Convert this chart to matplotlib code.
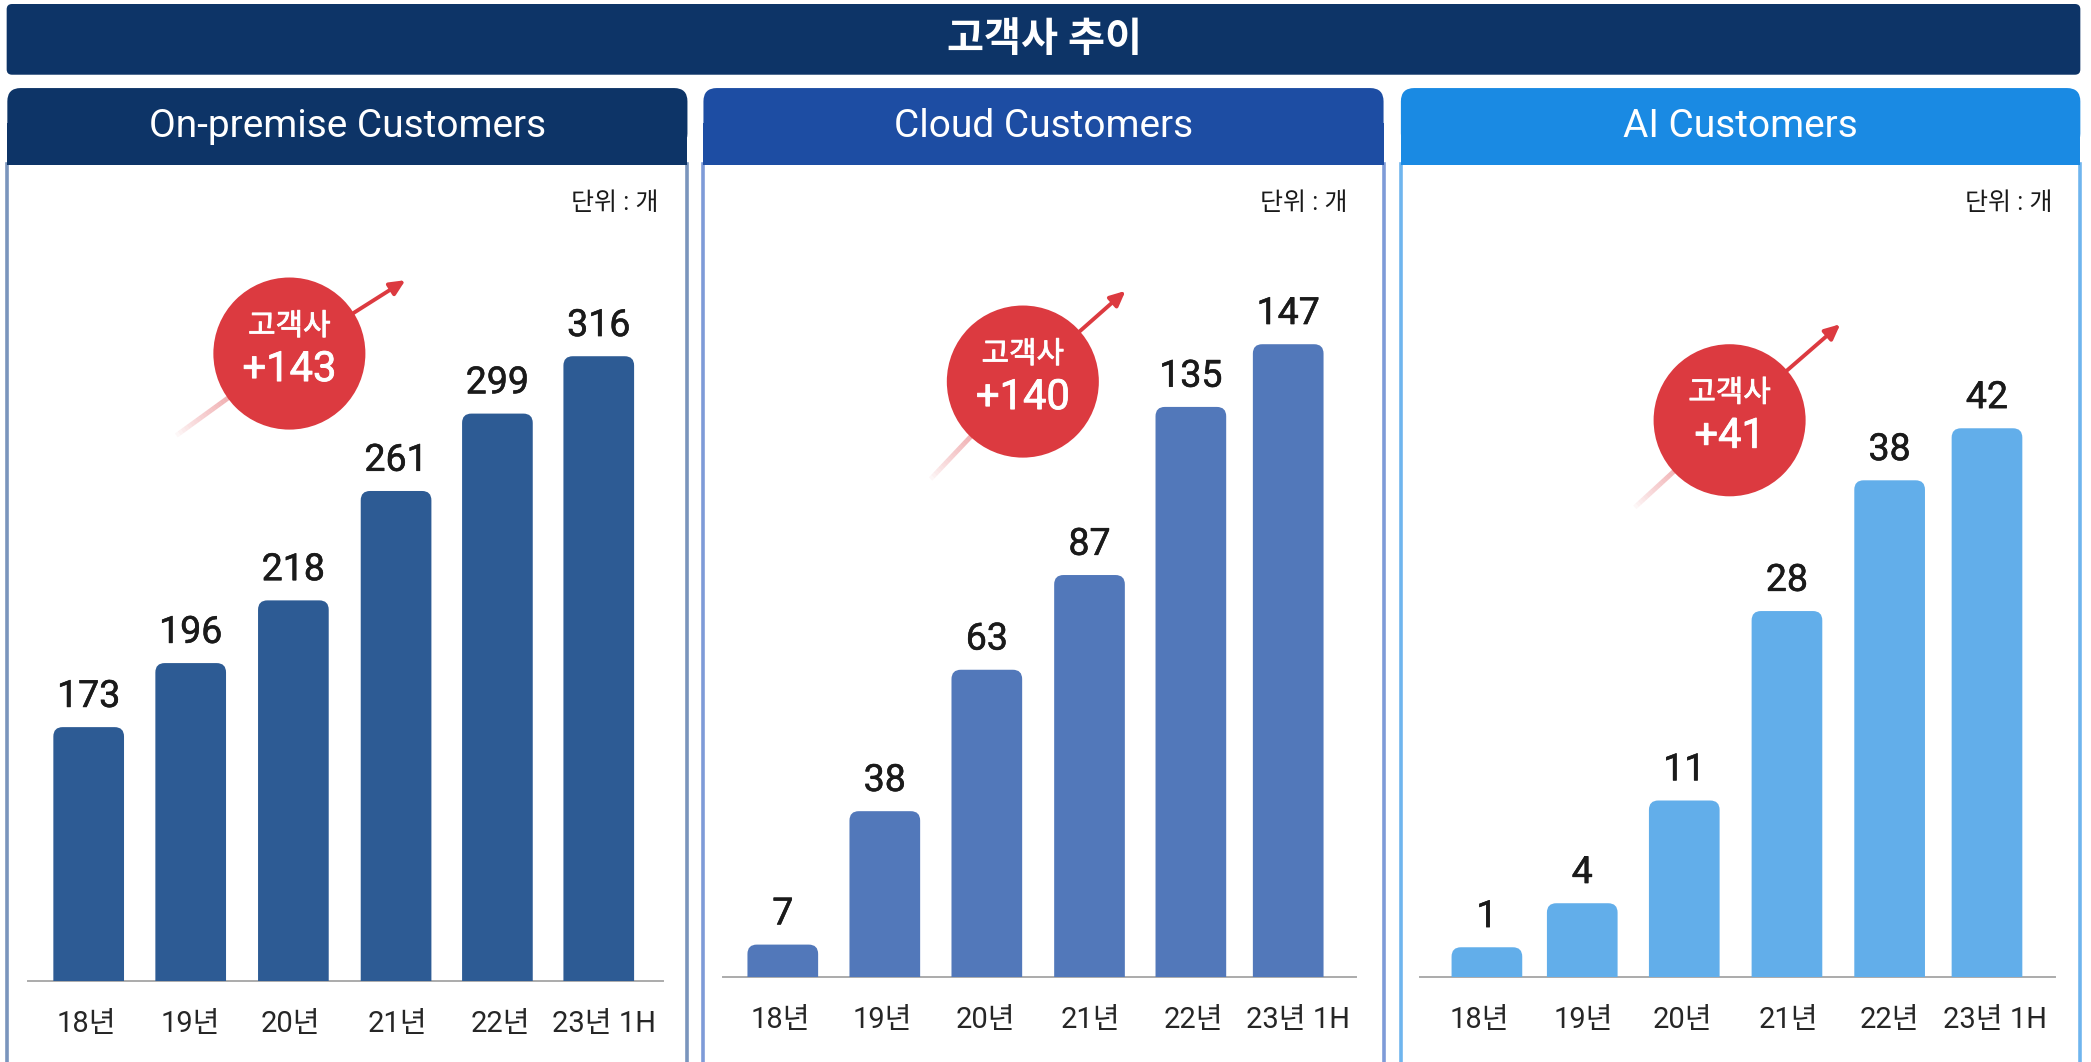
import numpy as np
import matplotlib
matplotlib.use('Agg')
import matplotlib.pyplot as plt
import matplotlib.patheffects as pe
from matplotlib.patches import FancyBboxPatch, Rectangle, Circle
from matplotlib.collections import LineCollection
from matplotlib.colors import to_rgba

plt.rcParams['font.family'] = ['Roboto', 'Noto Sans CJK KR', 'DejaVu Sans']

W, H = 1568, 796  # layout is worked out in the shrunk reference's pixels

periods = ['18년', '19년', '20년', '21년', '22년', '23년 1H']

onprem_values = [173, 196, 218, 261, 299, 316]
cloud_values = [7, 38, 63, 87, 135, 147]
ai_values = [1, 4, 11, 28, 38, 42]

# the bars in the picture are not to scale with their labels, so heights are read separately
onprem_heights = [190, 238, 285, 367, 425, 468]
cloud_heights = [24, 124, 230, 301, 427, 474]
ai_heights = [22, 55, 132, 274, 372, 411]

panel_titles = ['On-premise Customers', 'Cloud Customers', 'AI Customers']
growth_labels = ['+143', '+140', '+41']


def rounded_bar(ax, x, h, width, color):
    # rounded top, the bottom corners are cut off by the axes
    ax.add_patch(FancyBboxPatch((x - width / 2 + 7, -20), width - 14, h + 20 - 7,
                                boxstyle='round,pad=7,rounding_size=7',
                                fc=color, ec='none', mutation_aspect=1, zorder=3))


def draw_panel(bg, left, right, title, header_color, border_color):
    bg.add_patch(FancyBboxPatch((left + 10, 76), right - left - 20, 24,
                                boxstyle='round,pad=10,rounding_size=10',
                                fc=header_color, ec='none', zorder=2))
    bg.add_patch(Rectangle((left, 92), right - left, 32, fc=header_color, ec='none', zorder=2))
    bg.plot([left, left], [123, H], color=border_color, lw=2.6, zorder=1)
    bg.plot([right, right], [123, H], color=border_color, lw=2.6, zorder=1)
    bg.text((left + right) / 2, 94.5, title, color='white', fontsize=28,
            ha='center', va='center', zorder=4)


def draw_badge(bg, cx, cy, tail, tip, label):
    # tail fades out towards the lower left
    t = np.linspace(0, 1, 40)
    xs = tail[0] + (cx - tail[0]) * t
    ys = tail[1] + (cy - tail[1]) * t
    segs = np.stack([np.c_[xs[:-1], ys[:-1]], np.c_[xs[1:], ys[1:]]], axis=1)
    cols = [to_rgba('#dc3a40', a) for a in t[:-1] ** 0.8 * 0.75]
    bg.add_collection(LineCollection(segs, colors=cols, linewidths=3.5, zorder=5))
    bg.annotate('', xy=tip, xytext=(cx, cy), zorder=5,
                arrowprops=dict(arrowstyle='-|>,head_length=0.9,head_width=0.42', color='#dc3a40',
                                lw=2.8, shrinkA=0, shrinkB=0))
    bg.add_patch(Circle((cx, cy), 57, fc='#dc3a40', ec='none', zorder=6))
    thick = [pe.withStroke(linewidth=0.6, foreground='white')]
    bg.text(cx, cy - 20, '고객사', color='white', fontsize=21.5,
            ha='center', va='center', zorder=7, path_effects=thick)
    bg.text(cx, cy + 12, label, color='white', fontsize=30,
            ha='center', va='center', zorder=7, path_effects=thick)


def draw_bars(fig, x0, x1, base, centers, heights, values, color, tick_x):
    ax = fig.add_axes([x0 / W, 1 - base / H, (x1 - x0) / W, (base - 180) / H])
    ax.set_xlim(x0, x1)
    ax.set_ylim(0, base - 180)
    ax.patch.set_alpha(0)
    thick = [pe.withStroke(linewidth=0.4, foreground='#1a1a1a')]
    for x, h, v in zip(centers, heights, values):
        rounded_bar(ax, x, h, 53, color)
        ax.text(x, h + 23, str(v), fontsize=27, color='#1a1a1a', ha='center', va='center',
                zorder=4, path_effects=thick)
    for s in ['top', 'left', 'right']:
        ax.spines[s].set_visible(False)
    ax.spines['bottom'].set_color('#ababab')
    ax.spines['bottom'].set_linewidth(1.4)
    ax.set_yticks([])
    ax.set_xticks(tick_x)
    ax.set_xticklabels(periods, fontsize=21, color='#262626')
    ax.tick_params(axis='x', length=0, pad=21)
    return ax


def main():
    fig = plt.figure(figsize=(20.91, 10.62), dpi=100)
    bg = fig.add_axes([0, 0, 1, 1])
    bg.set_xlim(0, W)
    bg.set_ylim(H, 0)
    bg.axis('off')

    bg.add_patch(FancyBboxPatch((9, 7), 1547, 45, boxstyle='round,pad=4,rounding_size=4',
                                fc='#0d3467', ec='none'))
    bg.text(783, 30, '고객사 추이', color='white', fontsize=29, fontweight='bold',
            ha='center', va='center')

    draw_panel(bg, 5.5, 515.5, panel_titles[0], '#0d3467', '#7a95bd')
    draw_panel(bg, 527.5, 1037.5, panel_titles[1], '#1d4da3', '#7e9bd8')
    draw_panel(bg, 1050.5, 1560, panel_titles[2], '#1a8ae3', '#6fb5ee')

    for x, y in [(461, 152), (978, 152), (1506, 152)]:
        bg.text(x, y, '단위 : 개', fontsize=18, color='#1a1a1a', ha='center', va='center')

    draw_badge(bg, 217, 265, (130, 328), (304, 210), growth_labels[0])
    draw_badge(bg, 767, 286, (696, 361), (844, 218), growth_labels[1])
    draw_badge(bg, 1297, 315, (1224, 382), (1380, 243), growth_labels[2])

    draw_bars(fig, 21, 497, 735, [66.5, 143, 220, 297, 373, 449], onprem_heights, onprem_values, '#2d5b94',
              [65, 143, 218, 298, 375, 453])
    draw_bars(fig, 542, 1017, 732, [587, 663.5, 740, 817, 893, 966], cloud_heights, cloud_values, '#5278ba',
              [585, 662, 739, 818, 895, 973])
    draw_bars(fig, 1065, 1541, 732, [1115, 1186.5, 1263, 1340, 1417, 1490], ai_heights, ai_values, '#62aeea',
              [1109, 1187, 1262, 1341, 1417, 1496])

    fig.savefig('out.png', dpi=100, facecolor='white')


if __name__ == '__main__':
    main()
